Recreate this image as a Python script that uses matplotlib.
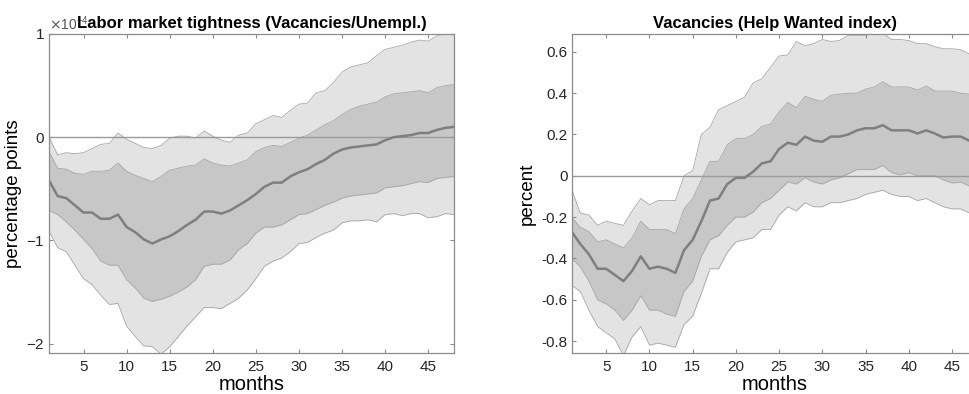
import numpy as np
import matplotlib
matplotlib.use('Agg')
import matplotlib.pyplot as plt
from matplotlib.ticker import ScalarFormatter

plt.rcParams['font.family'] = ['Liberation Sans', 'DejaVu Sans']
plt.rcParams['axes.unicode_minus'] = False

months = np.arange(1, 49)

# Labor market tightness, in units of 1e-4
tight_median = [-0.42, -0.57, -0.59, -0.66, -0.73, -0.73, -0.79, -0.79, -0.75, -0.87,
                -0.92, -0.99, -1.03, -0.99, -0.96, -0.91, -0.85, -0.80, -0.72, -0.72,
                -0.74, -0.71, -0.66, -0.61, -0.55, -0.48, -0.44, -0.44, -0.38, -0.34,
                -0.31, -0.26, -0.22, -0.16, -0.12, -0.10, -0.09, -0.08, -0.07, -0.03,
                0.00, 0.01, 0.02, 0.04, 0.04, 0.07, 0.09, 0.10]
tight_hi68 = [-0.14, -0.30, -0.31, -0.35, -0.36, -0.33, -0.33, -0.32, -0.25, -0.33,
              -0.37, -0.40, -0.43, -0.38, -0.32, -0.30, -0.28, -0.27, -0.21, -0.25,
              -0.27, -0.28, -0.25, -0.22, -0.14, -0.10, -0.08, -0.09, -0.05, -0.01,
              0.02, 0.07, 0.12, 0.16, 0.22, 0.27, 0.30, 0.32, 0.34, 0.39,
              0.42, 0.43, 0.44, 0.45, 0.43, 0.48, 0.50, 0.51]
tight_lo68 = [-0.71, -0.75, -0.82, -0.90, -0.99, -1.08, -1.20, -1.24, -1.24, -1.38,
              -1.46, -1.56, -1.59, -1.57, -1.54, -1.50, -1.45, -1.38, -1.25, -1.23,
              -1.23, -1.19, -1.09, -1.03, -0.93, -0.87, -0.87, -0.85, -0.80, -0.75,
              -0.74, -0.70, -0.66, -0.63, -0.59, -0.57, -0.56, -0.55, -0.54, -0.49,
              -0.48, -0.47, -0.45, -0.43, -0.44, -0.40, -0.39, -0.38]
tight_hi90 = [0.00, -0.17, -0.15, -0.16, -0.15, -0.11, -0.07, -0.06, 0.04, -0.02,
              -0.06, -0.10, -0.11, -0.08, -0.01, 0.01, 0.01, -0.01, 0.06, 0.01,
              -0.03, -0.05, 0.02, 0.04, 0.13, 0.17, 0.21, 0.19, 0.26, 0.32,
              0.33, 0.43, 0.45, 0.53, 0.63, 0.68, 0.70, 0.72, 0.79, 0.85,
              0.87, 0.89, 0.92, 0.94, 0.93, 0.98, 1.00, 1.01]
tight_lo90 = [-0.91, -1.07, -1.11, -1.24, -1.37, -1.43, -1.53, -1.62, -1.61, -1.83,
              -1.93, -2.02, -2.03, -2.10, -2.03, -1.93, -1.83, -1.74, -1.65, -1.65,
              -1.66, -1.61, -1.56, -1.48, -1.37, -1.25, -1.20, -1.17, -1.11, -1.03,
              -1.02, -0.97, -0.93, -0.90, -0.83, -0.81, -0.81, -0.80, -0.82, -0.75,
              -0.74, -0.76, -0.74, -0.74, -0.78, -0.77, -0.74, -0.75]

# Help Wanted index, percent
vac_median = [-0.27, -0.33, -0.38, -0.45, -0.45, -0.48, -0.51, -0.46, -0.39, -0.45,
              -0.44, -0.45, -0.47, -0.36, -0.31, -0.22, -0.12, -0.11, -0.04, -0.01,
              -0.01, 0.02, 0.06, 0.07, 0.13, 0.16, 0.15, 0.19, 0.17, 0.165,
              0.19, 0.19, 0.20, 0.22, 0.23, 0.23, 0.245, 0.22, 0.22, 0.22,
              0.205, 0.22, 0.205, 0.185, 0.19, 0.19, 0.17, 0.17]
vac_hi68 = [-0.20, -0.25, -0.27, -0.32, -0.31, -0.33, -0.35, -0.30, -0.22, -0.26,
            -0.26, -0.26, -0.28, -0.16, -0.11, -0.02, 0.07, 0.07, 0.15, 0.18,
            0.18, 0.20, 0.24, 0.25, 0.31, 0.355, 0.33, 0.385, 0.37, 0.36,
            0.39, 0.395, 0.40, 0.40, 0.42, 0.43, 0.455, 0.43, 0.43, 0.43,
            0.415, 0.435, 0.41, 0.41, 0.41, 0.40, 0.395, 0.39]
vac_lo68 = [-0.40, -0.44, -0.51, -0.60, -0.62, -0.65, -0.70, -0.65, -0.58, -0.65,
            -0.65, -0.67, -0.68, -0.56, -0.51, -0.39, -0.31, -0.29, -0.24, -0.20,
            -0.20, -0.175, -0.13, -0.11, -0.07, -0.03, -0.04, -0.01, -0.03, -0.04,
            -0.02, -0.01, 0.01, 0.03, 0.03, 0.03, 0.05, 0.015, 0.005, 0.015,
            0.0, 0.0, 0.0, -0.02, -0.035, -0.03, -0.05, -0.06]
vac_hi90 = [-0.065, -0.18, -0.19, -0.24, -0.22, -0.23, -0.24, -0.17, -0.11, -0.14,
            -0.12, -0.12, -0.12, 0.0, 0.025, 0.20, 0.235, 0.32, 0.34, 0.36,
            0.38, 0.45, 0.47, 0.525, 0.58, 0.585, 0.65, 0.63, 0.64, 0.66,
            0.65, 0.655, 0.68, 0.68, 0.68, 0.695, 0.69, 0.66, 0.66, 0.655,
            0.64, 0.64, 0.625, 0.615, 0.615, 0.61, 0.59, 0.58]
vac_lo90 = [-0.53, -0.56, -0.65, -0.73, -0.76, -0.79, -0.87, -0.78, -0.73, -0.82,
            -0.81, -0.82, -0.83, -0.72, -0.68, -0.57, -0.45, -0.45, -0.37, -0.32,
            -0.31, -0.30, -0.26, -0.26, -0.19, -0.15, -0.17, -0.13, -0.15, -0.15,
            -0.13, -0.13, -0.12, -0.11, -0.09, -0.08, -0.07, -0.09, -0.10, -0.10,
            -0.12, -0.11, -0.13, -0.15, -0.16, -0.16, -0.18, -0.19]

OUTER = '#e3e3e3'
INNER = '#c7c7c7'
EDGE = '#a6a6a6'
LINE = '#7f7f7f'
SPINE = '#8c8c8c'


def draw_irf(ax, med, lo68, hi68, lo90, hi90, scale=1.0):
    med, lo68, hi68, lo90, hi90 = [np.asarray(a) * scale for a in (med, lo68, hi68, lo90, hi90)]
    ax.fill_between(months, lo90, hi90, color=OUTER, lw=0)
    ax.fill_between(months, lo68, hi68, color=INNER, lw=0)
    for band in (lo90, hi90, lo68, hi68):
        ax.plot(months, band, color=EDGE, lw=0.6)
    ax.axhline(0, color='#9a9a9a', lw=1.0)
    ax.plot(months, med, color=LINE, lw=1.8)
    ax.set_xlim(1, 48)
    ax.set_xticks(np.arange(5, 48, 5))
    ax.tick_params(direction='in', top=True, right=True, length=3,
                   color=SPINE, labelsize=11, labelcolor='#262626', pad=5)
    ax.tick_params(axis='y', pad=3)
    for s in ax.spines.values():
        s.set_color(SPINE)
        s.set_linewidth(0.9)
    ax.set_xlabel('months', fontsize=14.5, labelpad=1)


fig = plt.figure(figsize=(9.69, 3.94), dpi=100)

ax1 = fig.add_axes([0.0506, 0.104, 0.418, 0.810])
draw_irf(ax1, tight_median, tight_lo68, tight_hi68, tight_lo90, tight_hi90, scale=1e-4)
ax1.set_ylim(-2.09e-4, 1.0e-4)
ax1.set_yticks([-2e-4, -1e-4, 0, 1e-4])
fmt = ScalarFormatter(useMathText=True)
fmt.set_powerlimits((0, 0))
ax1.yaxis.set_major_formatter(fmt)
ax1.yaxis.get_offset_text().set_fontsize(10)
ax1.yaxis.get_offset_text().set_color('#555555')
ax1.set_ylabel('percentage points', fontsize=13.5)
ax1.yaxis.set_label_coords(-0.066, 0.5)
# fixed y keeps the title level with the exponent label
ax1.set_title('Labor market tightness (Vacancies/Unempl.)', fontsize=12,
              fontweight='bold', y=1.0, pad=4)

ax2 = fig.add_axes([0.5899, 0.104, 0.4194, 0.810])
draw_irf(ax2, vac_median, vac_lo68, vac_hi68, vac_lo90, vac_hi90)
ax2.set_ylim(-0.858, 0.687)
ax2.set_yticks(np.arange(-0.8, 0.61, 0.2))
ax2.set_yticklabels(['-0.8', '-0.6', '-0.4', '-0.2', '0', '0.2', '0.4', '0.6'])
ax2.set_ylabel('percent', fontsize=13.5)
ax2.yaxis.set_label_coords(-0.088, 0.5)
ax2.set_title('Vacancies (Help Wanted index)', fontsize=12,
              fontweight='bold', y=1.0, pad=4)

fig.savefig('out.png', dpi=100)
